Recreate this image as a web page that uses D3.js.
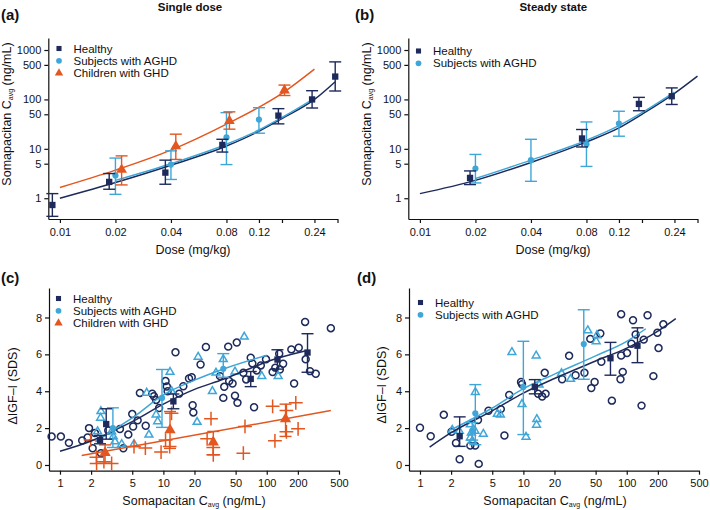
<!DOCTYPE html>
<html>
<head>
<meta charset="utf-8">
<script src="https://cdn.jsdelivr.net/npm/d3@7"></script>
<style>
  body { margin: 0; background: #fff; }
  text { font-family: "Liberation Sans", Arial, sans-serif; fill: #111; }
</style>
</head>
<body>
<svg id="chart" width="710" height="510"></svg>
<script>
// ---- data: [x, mean, low, high] for summary points, [x, y] for observations / fits ----
const doseTicks = [0.01, 0.02, 0.04, 0.08, 0.12, 0.16, 0.24, 0.32];
const doseTickLabels = ["0.01", "0.02", "0.04", "0.08", "0.12", "", "0.24", ""];
const concTicks = [1, 5, 10, 50, 100, 500, 1000];
const cavgTicks = [1, 2, 5, 10, 20, 50, 100, 200, 500];
const igfTicks = [0, 2, 4, 6, 8];
const legendNames = ["Healthy", "Subjects with AGHD", "Children with GHD"];

const aHealthy = [[0.0091,0.73,0.43,1.24],[0.0185,2.14,1.52,3.16],[0.0373,3.3,1.92,5.9],[0.076,12,8.6,15.6],[0.153,47,32,65],[0.233,100,67,150],[0.311,290,148,575]];
const aAghd = [[0.02,2.9,1.2,6.5],[0.04,4.8,2.4,9.1],[0.08,17,4.8,54],[0.12,39,20.7,68]];
const aChild = [[0.0216,3.8,1.86,7.2],[0.0425,11.3,6.1,19.8],[0.083,36.6,25,56],[0.165,153,120,195]];
const aFitHealthy = [[0.01,1.0],[0.02,2.08],[0.04,4.66],[0.08,11.4],[0.12,22.7],[0.16,41],[0.24,100],[0.31,226]];
const aFitAghd = [[0.02,2.3],[0.04,5.0],[0.08,12.4],[0.12,24],[0.16,43],[0.24,105]];
const aFitChild = [[0.01,1.65],[0.02,3.7],[0.04,9.4],[0.08,31.5],[0.16,132],[0.24,410]];

const bHealthy = [[0.0187,2.58,1.89,3.57],[0.0757,16.2,10.9,24.6],[0.154,81,59,110],[0.232,116,79,171]];
const bAghd = [[0.02,4.0,2.04,7.7],[0.04,5.9,2.2,15.6],[0.08,12.4,4.4,35],[0.12,32.6,18,57.6]];
const bFitHealthy = [[0.01,1.24],[0.02,2.3],[0.04,5.3],[0.08,13.8],[0.12,26.5],[0.16,50],[0.24,132],[0.32,295]];
const bFitAghd = [[0.02,2.5],[0.04,5.9],[0.08,14.9],[0.12,29.5],[0.16,54],[0.24,141]];

const cHealthyObs = [[0.83,1.54],[1.02,1.54],[1.22,1.2],[1.64,1.33],[1.85,1.49],[1.91,2.0],[2.07,0.91],[2.18,1.73],[2.49,0.64],[2.93,1.87],[3.8,1.95],[4.1,0.91],[4.58,1.65],[5.0,2.76],[5.1,2.09],[5.64,2.42],[5.93,3.91],[6.75,2.13],[7.8,3.87],[8.1,3.73],[8.5,3.53],[9.1,3.09],[10.5,4.55],[10.8,4.26],[11.0,4.0],[13.1,6.11],[14.2,3.87],[15.6,4.27],[17.7,4.69],[18.8,4.76],[19.2,3.24],[19.5,2.85],[22.9,5.45],[25.8,6.4],[35.3,4.82],[38,3.64],[38.8,4.24],[42.4,6.42],[43.3,4.55],[46.7,4.42],[49.3,3.76],[51.3,6.64],[52.1,3.37],[59.4,5.0],[63.2,4.64],[70,5.82],[72.6,5.51],[75.4,3.13],[80,5.13],[87.6,5.4],[98.4,5.73],[114,5.04],[121,5.28],[132,6.04],[134,5.18],[144,5.49],[173,6.27],[184,4.42],[204,6.36],[235,7.76],[238,5.73],[262,5.09],[298,4.95],[417,7.42]];
const cAghdObs = [[2.31,1.82],[2.49,2.91],[2.47,2.55],[3.16,1.82],[3.28,1.54],[3.4,1.27],[3.95,1.13],[5.2,1.13],[6.9,3.91],[7.25,1.64],[8.5,2.73],[8.8,2.36],[11.6,5.04],[12.0,4.0],[21.7,5.86],[21.2,2.33],[29.8,4.0],[32.3,5.0],[38,5.73],[49.3,5.06],[60.6,6.95],[89.5,4.82],[129,4.82]];
const cChildObs = [[1.98,1.36],[2.25,0.42],[2.26,0.08],[2.66,0.18],[3.16,0.08],[5.2,1.0],[6.7,0.92],[9.5,0.7],[10.5,1.35],[11.5,1.0],[12.0,2.8],[26.5,1.42],[28.9,2.51],[30.4,0.55],[30.4,0.95],[59.4,0.64],[61.6,2.09],[114,3.18],[120,1.31],[155,2.95],[155,1.8],[191,3.37],[201,1.96]];
const cHealthyMean = [[2.44,1.36,1.15,1.6],[2.8,2.22,1.4,3.05],[12.5,3.45,3.05,3.85],[70,4.67,4.25,5.07],[127,5.72,5.2,6.25],[248,6.1,5.03,7.12]];
const cAghdMean = [[3.25,2.0,0.95,3.1],[9.7,3.64,2.04,5.18],[38,5.22,4.76,6.04]];
const cChildMean = [[2.73,0.67,0.09,1.09],[11.6,1.9,0.9,2.9],[30.4,1.24,0.55,1.82],[152,2.5,1.55,3.3]];
const cFitHealthy = [[1,0.75],[2,1.3],[3,1.75],[5,2.35],[10,3.3],[20,4.1],[38,4.65],[70,5.25],[100,5.6],[240,6.2]];
const cFitAghd = [[2.2,1.25],[3,1.75],[5,2.55],[10,3.8],[20,4.6],[40,5.25],[100,5.95]];
const cFitChild = [[1.62,0.52],[417,2.95]];

const dHealthyObs = [[1.0,2.02],[1.27,1.56],[1.7,2.72],[2.02,1.8],[2.23,1.19],[2.42,0.31],[3.07,1.05],[3.42,1.05],[3.7,0.06],[3.64,2.44],[4.6,2.94],[6.05,3.03],[6.56,1.6],[7.3,3.8],[9.5,4.5],[9.7,4.38],[13.9,3.86],[15.2,3.71],[16.4,3.86],[16.1,5.0],[23.7,4.65],[27.7,5.92],[32,4.87],[39,5.0],[44.4,6.84],[45.4,4.17],[48.9,4.5],[55.5,7.13],[56.8,5.6],[71.8,3.49],[87,4.65],[88.3,8.18],[88.3,5.94],[91.5,5.05],[100.6,6.07],[111,6.58],[115,7.85],[122,7.08],[139,3.22],[146,6.8],[159,8.12],[181,4.82],[198,7.17],[203,6.34],[226,7.63]];
const dAghdObs = [[2.05,1.9],[2.4,1.84],[3.07,2.2],[3.14,1.75],[3.07,1.48],[3.2,1.3],[3.4,1.85],[3.43,3.95],[4.1,1.68],[5.6,2.76],[6.0,2.72],[7.75,6.12],[9.7,3.3],[10.6,1.52],[13.3,5.93],[13.5,2.48],[13.4,2.17],[14.2,4.35],[23.4,4.97],[28.6,4.66],[42,7.3],[50.6,6.7],[51.5,7.03]];
const dHealthyMean = [[2.42,1.56,1.01,2.61],[12.9,4.23,3.86,4.63],[69.6,5.79,4.87,6.65],[127,6.47,5.55,7.44]];
const dAghdMean = [[3.2,1.85,1.35,2.3],[3.43,2.8,1.1,4.36],[10,4.23,1.65,6.71],[38.4,6.56,4.65,8.42]];
const dFitHealthy = [[1.24,0.97],[2,1.75],[5,2.94],[10,3.9],[20,4.69],[50,5.64],[100,6.34],[200,7.26],[298,7.94]];
const dFitAghd = [[1.97,1.89],[5,3.09],[10,4.14],[20,4.93],[50,5.92],[100,6.71],[153,7.39]];

const navy = "#1d2a5b", light = "#3fa6d8", orange = "#e4561f";
const colors = [navy, light, orange];

const svg = d3.select("#chart");

// scales (panel b / d are the same, shifted right)
const xDose = d3.scaleLog().domain([0.00865, 0.32]).range([48.3, 337.5]);
const yConc = d3.scaleLog().domain([0.38, 1750]).range([219, 38]);
const xCavg = d3.scaleLog().domain([0.783, 500]).range([49, 339]);
const yIgf = d3.scaleLinear().domain([-0.31, 9.6]).range([470.7, 288]);

function axes(g, x, y, xt, xfmt, yt, yfmt) {
  const xa = g.append("g")
    .attr("transform", "translate(0," + y.range()[0] + ")")
    .call(d3.axisBottom(x).tickValues(xt).tickFormat(xfmt).tickSize(4).tickPadding(5).tickSizeOuter(0));
  const ya = g.append("g")
    .attr("transform", "translate(" + x.range()[0] + ",0)")
    .call(d3.axisLeft(y).tickValues(yt).tickFormat(yfmt).tickSize(4).tickPadding(3).tickSizeOuter(0));
  [xa, ya].forEach(a => {
    a.attr("font-family", null).attr("font-size", 11);
    a.selectAll("path, line").attr("stroke", "#111").attr("stroke-width", 1.2);
    a.selectAll("text").attr("fill", "#111");
  });
}

function fit(g, x, y, pts, color) {
  g.append("path")
    .datum(pts)
    .attr("fill", "none")
    .attr("stroke", color)
    .attr("stroke-width", 1.5)
    .attr("d", d3.line().x(d => x(d[0])).y(d => y(d[1])).curve(d3.curveMonotoneX));
}

function summary(g, x, y, pts, color, sym, size) {
  const cap = 6;
  pts.forEach(d => {
    const cx = x(d[0]);
    g.append("line").attr("x1", cx).attr("x2", cx).attr("y1", y(d[2])).attr("y2", y(d[3]))
      .attr("stroke", color).attr("stroke-width", 1.4);
    [d[2], d[3]].forEach(v => {
      g.append("line").attr("x1", cx - cap).attr("x2", cx + cap).attr("y1", y(v)).attr("y2", y(v))
        .attr("stroke", color).attr("stroke-width", 1.4);
    });
    g.append("path").attr("d", d3.symbol(sym, size)())
      .attr("transform", "translate(" + cx + "," + y(d[1]) + ")")
      .attr("fill", color);
  });
}

function obs(g, x, y, pts, color, sym, size) {
  g.selectAll(null).data(pts).join("path")
    .attr("d", d3.symbol(sym, size)())
    .attr("transform", d => "translate(" + x(d[0]) + "," + y(d[1]) + ")")
    .attr("fill", "none")
    .attr("stroke", color)
    .attr("stroke-width", 1.5);
}

function legend(g, x0, y0, n) {
  const syms = [d3.symbolSquare, d3.symbolCircle, d3.symbolTriangle];
  const sizes = [26, 26, 30];
  for (let i = 0; i < n; i++) {
    g.append("path").attr("d", d3.symbol(syms[i], sizes[i])())
      .attr("transform", "translate(" + x0 + "," + (y0 + i * 12.3) + ")")
      .attr("fill", colors[i]);
    g.append("text").attr("x", x0 + 14.5).attr("y", y0 + i * 12.3 + 4)
      .attr("font-size", 11.5).text(legendNames[i]);
  }
}

function cavgLabel(g, cx, y, rotate) {
  const t = g.append("text").attr("font-size", 12.5).attr("text-anchor", "middle");
  if (rotate) t.attr("transform", "translate(" + cx + "," + y + ") rotate(-90)");
  else t.attr("x", cx).attr("y", y);
  t.append("tspan").text("Somapacitan C");
  t.append("tspan").text("avg").attr("font-size", 7).attr("dy", 2.5);
  t.append("tspan").text(" (ng/mL)").attr("dy", -2.5);
}

function panelTag(g, x, y, s) {
  g.append("text").attr("x", x).attr("y", y).attr("font-size", 15).attr("font-weight", "bold").text(s);
}

const doseFmt = (d, i) => doseTickLabels[i];

// ---- panel (a)
const ga = svg.append("g");
axes(ga, xDose, yConc, doseTicks, doseFmt, concTicks, d3.format("d"));
fit(ga, xDose, yConc, aFitHealthy, navy);
fit(ga, xDose, yConc, aFitAghd, light);
fit(ga, xDose, yConc, aFitChild, orange);
summary(ga, xDose, yConc, aAghd, light, d3.symbolCircle, 30);
summary(ga, xDose, yConc, aChild, orange, d3.symbolTriangle, 50);
summary(ga, xDose, yConc, aHealthy, navy, d3.symbolSquare, 40);
legend(ga, 59, 48.5, 3);
panelTag(ga, 1, 19.5, "(a)");
ga.append("text").attr("x", 190).attr("y", 10.5).attr("text-anchor", "middle")
  .attr("font-size", 11.5).attr("font-weight", "bold").text("Single dose");
ga.append("text").attr("x", 193).attr("y", 254).attr("text-anchor", "middle")
  .attr("font-size", 12.5).text("Dose (mg/kg)");
cavgLabel(ga, 10.5, 114, true);

// ---- panel (b)
const gb = svg.append("g").attr("transform", "translate(360,0)");
axes(gb, xDose, yConc, doseTicks, doseFmt, concTicks, d3.format("d"));
fit(gb, xDose, yConc, bFitHealthy, navy);
fit(gb, xDose, yConc, bFitAghd, light);
summary(gb, xDose, yConc, bAghd, light, d3.symbolCircle, 30);
summary(gb, xDose, yConc, bHealthy, navy, d3.symbolSquare, 40);
legend(gb, 58.5, 51, 2);
panelTag(gb, -5, 19.5, "(b)");
gb.append("text").attr("x", 193.3).attr("y", 10.5).attr("text-anchor", "middle")
  .attr("font-size", 11.5).attr("font-weight", "bold").text("Steady state");
gb.append("text").attr("x", 193).attr("y", 254).attr("text-anchor", "middle")
  .attr("font-size", 12.5).text("Dose (mg/kg)");
cavgLabel(gb, 10.5, 114, true);

// ---- panel (c)
const gc = svg.append("g");
axes(gc, xCavg, yIgf, cavgTicks, d3.format("d"), igfTicks, d3.format("d"));
obs(gc, xCavg, yIgf, cHealthyObs, navy, d3.symbolCircle, 38);
obs(gc, xCavg, yIgf, cAghdObs, light, d3.symbolTriangle2, 44);
obs(gc, xCavg, yIgf, cChildObs, orange, d3.symbolPlus, 64);
fit(gc, xCavg, yIgf, cFitHealthy, navy);
fit(gc, xCavg, yIgf, cFitAghd, light);
fit(gc, xCavg, yIgf, cFitChild, orange);
summary(gc, xCavg, yIgf, cAghdMean, light, d3.symbolCircle, 30);
summary(gc, xCavg, yIgf, cChildMean, orange, d3.symbolTriangle, 55);
summary(gc, xCavg, yIgf, cHealthyMean, navy, d3.symbolSquare, 40);
legend(gc, 58.5, 298.5, 3);
panelTag(gc, 1, 283, "(c)");
cavgLabel(gc, 194, 504.5, false);
gc.append("text").attr("transform", "translate(17,386) rotate(-90)").attr("text-anchor", "middle")
  .attr("font-size", 12.5).text("\u0394IGF\u2013I (SDS)");

// ---- panel (d)
const gd = svg.append("g").attr("transform", "translate(360,0)");
axes(gd, xCavg, yIgf, cavgTicks, d3.format("d"), igfTicks, d3.format("d"));
obs(gd, xCavg, yIgf, dHealthyObs, navy, d3.symbolCircle, 38);
obs(gd, xCavg, yIgf, dAghdObs, light, d3.symbolTriangle2, 44);
fit(gd, xCavg, yIgf, dFitHealthy, navy);
fit(gd, xCavg, yIgf, dFitAghd, light);
summary(gd, xCavg, yIgf, dAghdMean, light, d3.symbolCircle, 30);
summary(gd, xCavg, yIgf, dHealthyMean, navy, d3.symbolSquare, 40);
legend(gd, 60.5, 302.5, 2);
panelTag(gd, -3, 283, "(d)");
cavgLabel(gd, 195, 504.5, false);
gd.append("text").attr("transform", "translate(26,385) rotate(-90)").attr("text-anchor", "middle")
  .attr("font-size", 12.5).text("\u0394IGF\u2013I (SDS)");
</script>
</body>
</html>
